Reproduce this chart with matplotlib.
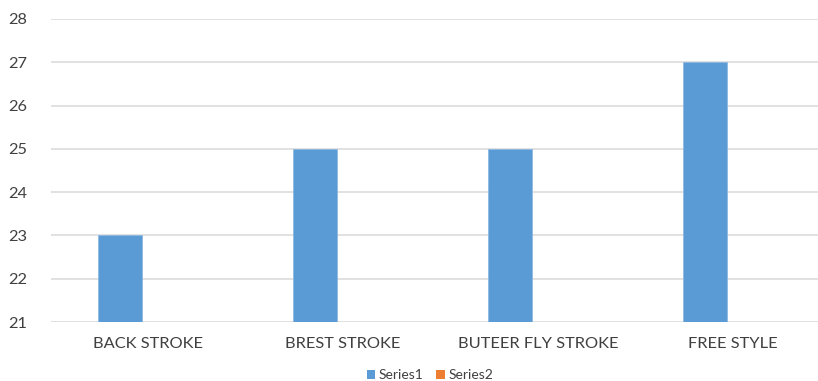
import matplotlib
matplotlib.use("Agg")
import matplotlib.pyplot as plt
import numpy as np
from matplotlib.patches import Patch

categories = ["BACK STROKE", "BREST STROKE", "BUTEER FLY STROKE", "FREE STYLE"]
series1 = [23, 25, 25, 27]
series2 = [0, 0, 0, 0]
series_names = ["Series1", "Series2"]
y_ticks = [21, 22, 23, 24, 25, 26, 27, 28]

plt.rcParams["font.family"] = ["Lato", "DejaVu Sans"]

W, H = 818, 381
fig = plt.figure(figsize=(W / 100, H / 100), dpi=100)
ax = fig.add_axes([50.5 / W, 59 / H, 780 / W, 303 / H])

x = np.arange(len(categories))
bw = 44 / 195
c1, c2 = "#5B9BD5", "#ED7D31"
ax.bar(x - 28 / 195, series1, width=bw, color=c1, edgecolor="#8db9e3", linewidth=0.6, zorder=3)
ax.bar(x - 28 / 195 + bw, series2, width=bw, color=c2, zorder=3)

ax.set_xlim(-0.5, len(categories) - 0.5)
ax.set_ylim(21, 28)
ax.set_yticks(y_ticks)
ax.set_xticks(x)
ax.set_xticklabels(categories)
ax.grid(axis="y", color="#d9d9d9", linewidth=1.1, zorder=0)
for s in ax.spines.values():
    s.set_visible(False)
ax.tick_params(axis="both", length=0, colors="#404040", labelsize=11.8)
ax.tick_params(axis="y", pad=17)
ax.tick_params(axis="x", pad=11)

handles = [Patch(facecolor=c1), Patch(facecolor=c2)]
fig.legend(handles, series_names, loc="center", bbox_to_anchor=(430 / W, 1 - 375 / H),
           ncol=2, frameon=False, fontsize=10, handlelength=0.6, handleheight=0.6,
           handletextpad=0.25, columnspacing=0.9, labelcolor="#404040")

fig.savefig("out.png", dpi=100)
